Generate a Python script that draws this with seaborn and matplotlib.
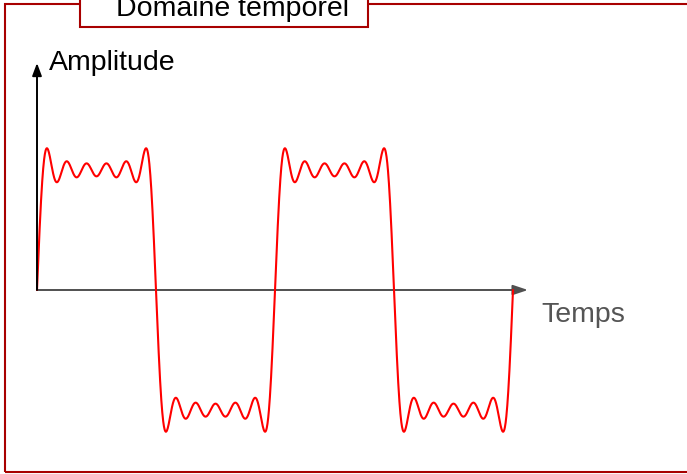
import numpy as np
import pandas as pd
import matplotlib
matplotlib.use("Agg")
import matplotlib.pyplot as plt
import seaborn as sns
from matplotlib.patches import Rectangle

# Synthese de Fourier d'un signal carre (harmoniques impaires)
harmoniques = [1, 3, 5, 7, 9, 11]
amplitudes = [1.273, 0.424, 0.255, 0.182, 0.141, 0.116]
n_periodes = 2

titre = "Domaine temporel"
label_y = "Amplitude"
label_x = "Temps"

W, H = 687, 474

sns.set_theme(style="white")
plt.rcParams['font.family'] = ['Liberation Sans', 'DejaVu Sans']

t = np.linspace(0, n_periodes, 2000)
s = np.zeros_like(t)
for n, a in zip(harmoniques, amplitudes):
    s += a * np.sin(2 * np.pi * n * t)
df = pd.DataFrame({"temps": t, "amplitude": s})

fig = plt.figure(figsize=(W / 100, H / 100), dpi=100)
ax = fig.add_axes([0, 0, 1, 1])

# echelles : origine a (37, 290) px, 238 px par periode, 120 px par unite
x0, y0, sx, sy = 37, 290, 238, 120
ax.set_xlim(-x0 / sx, (W - x0) / sx)
ax.set_ylim(-(H - y0) / sy, y0 / sy)
ax.axis("off")

sns.lineplot(data=df, x="temps", y="amplitude", ax=ax, color="#ff0000",
             linewidth=1.5, zorder=3, sort=False)

# axes fleches
ax.annotate("", xy=(0, (y0 - 63) / sy), xytext=(0, 0),
            arrowprops=dict(arrowstyle="-|>,head_length=0.75,head_width=0.28",
                            color="black", lw=1.4, shrinkA=0, shrinkB=0,
                            mutation_scale=10))
ax.annotate("", xy=((528 - x0) / sx, 0), xytext=(0, 0),
            arrowprops=dict(arrowstyle="-|>,head_length=0.9,head_width=0.3",
                            color="#505050", lw=1.4, shrinkA=0, shrinkB=0,
                            mutation_scale=10), zorder=2)


def fx(x):
    return x / W


def fy(y):
    return 1 - y / H


# cadre
fig.patches.append(Rectangle((fx(5), fy(472)), fx(700) - fx(5), fy(4) - fy(472),
                             transform=fig.transFigure, fill=False,
                             edgecolor="#a80000", linewidth=1.5))
fig.patches.append(Rectangle((fx(80), fy(27)), fx(368) - fx(80), fy(-10) - fy(27),
                             transform=fig.transFigure, facecolor="white",
                             edgecolor="#a80000", linewidth=1.5))

fig.text(fx(232), fy(16), titre, ha="center", va="baseline", fontsize=20.5,
         color="black")
fig.text(fx(49), fy(70), label_y, ha="left", va="baseline", fontsize=20.5,
         color="black")
fig.text(fx(541), fy(322), label_x, ha="left", va="baseline", fontsize=20.5,
         color="#555555")

fig.savefig("out.png", dpi=100)
